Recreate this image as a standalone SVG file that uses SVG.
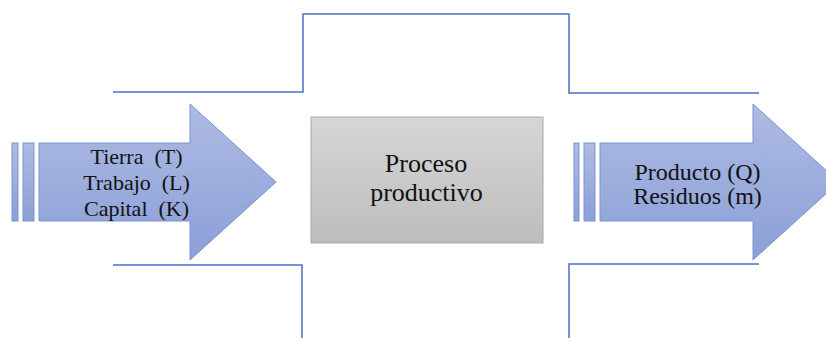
<svg xmlns="http://www.w3.org/2000/svg" width="826" height="338" viewBox="0 0 826 338">
<defs>
<linearGradient id="blueGrad" x1="0" y1="0" x2="0" y2="1">
<stop offset="0" stop-color="#aebbe3"/>
<stop offset="1" stop-color="#8b9fd7"/>
</linearGradient>
<linearGradient id="grayGrad" x1="0" y1="0" x2="0" y2="1">
<stop offset="0" stop-color="#d6d6d6"/>
<stop offset="1" stop-color="#bdbdbd"/>
</linearGradient>
</defs>
<style>
.bound{fill:none;stroke:#4472c4;stroke-width:1.5}
.arrow{fill:url(#blueGrad);stroke:#7b93d2;stroke-width:1}
.box{fill:url(#grayGrad);stroke:#a8a8a8;stroke-width:1}
.lbl{font-family:"Liberation Serif","Times New Roman",serif;fill:#111;text-anchor:middle;white-space:pre}
</style>
<g id="connectors">
<path class="bound" d="M113 92 H303 V14 H569 V93 H759"/>
<path class="bound" d="M113 265 H302 V338"/>
<path class="bound" d="M759 264 H569 V338"/>
</g>
<g id="input-arrow">
<rect class="arrow" x="12" y="143" width="6" height="78"/>
<rect class="arrow" x="23" y="143" width="11" height="78"/>
<path class="arrow" d="M39 143 H190 V104 L276 182 L190 260 V221 H39 Z"/>
<text class="lbl" font-size="22" x="136.5" y="164" xml:space="preserve">Tierra  (T)</text>
<text class="lbl" font-size="22" x="136.5" y="190" xml:space="preserve">Trabajo  (L)</text>
<text class="lbl" font-size="22" x="136.5" y="216" xml:space="preserve">Capital  (K)</text>
</g>
<g id="process">
<rect class="box" x="311" y="117" width="232" height="126"/>
<text class="lbl" font-size="26" x="426" y="172">Proceso</text>
<text class="lbl" font-size="26" x="426.5" y="201">productivo</text>
</g>
<g id="output-arrow">
<rect class="arrow" x="574" y="143" width="5" height="78"/>
<rect class="arrow" x="584" y="143" width="11" height="78"/>
<path class="arrow" d="M600 143 H753 V104 L839 182 L753 260 V221 H600 Z"/>
<text class="lbl" font-size="24" x="697.5" y="180">Producto (Q)</text>
<text class="lbl" font-size="24" x="697.5" y="204">Residuos (m)</text>
</g>
</svg>
